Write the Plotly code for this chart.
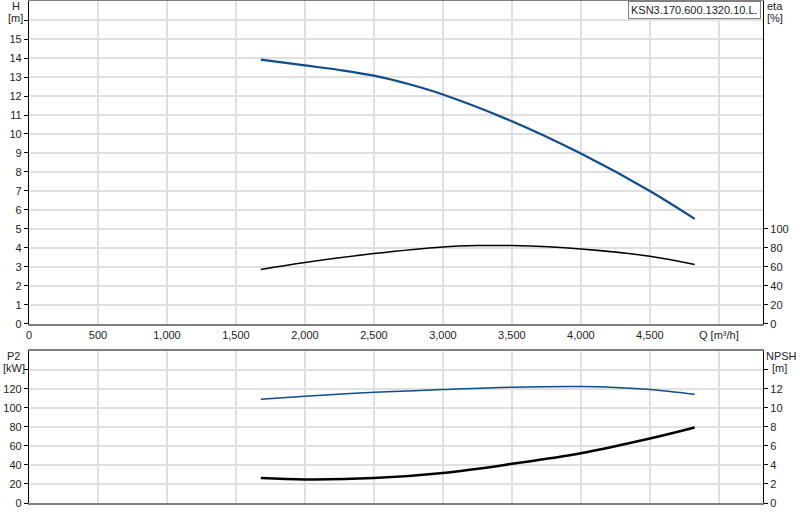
import plotly.graph_objects as go

# pump curve readings
q_h = [1680, 2000, 2250, 2500, 2750, 3000, 3500, 4000, 4500, 4825]
head = [13.91, 13.61, 13.37, 13.07, 12.63, 12.08, 10.67, 8.97, 7.0, 5.53]

q_eta = [1680, 2000, 2500, 3000, 3250, 3500, 4000, 4500, 4825]
eta = [57.4, 64.7, 74.1, 81.1, 82.5, 82.5, 79.0, 71.3, 62.6]

q_p2 = [1680, 2000, 2500, 3000, 3500, 4000, 4250, 4500, 4825]
p2 = [109.2, 112.3, 116.5, 119.4, 121.8, 122.5, 121.5, 119.4, 114.4]

q_npsh = [1680, 2000, 2500, 3000, 3500, 4000, 4500, 4825]
npsh = [2.63, 2.48, 2.62, 3.16, 4.12, 5.24, 6.78, 7.94]

q_ticks = list(range(0, 5001, 500))
q_labels = ['0', '500', '1,000', '1,500', '2,000', '2,500', '3,000',
            '3,500', '4,000', '4,500', 'Q [m³/h]']
h_ticks = list(range(0, 17))
eta_ticks = list(range(0, 101, 20))
p2_ticks = list(range(0, 141, 20))
npsh_ticks = list(range(0, 15, 2))

blue = '#0d4c8f'
grid = '#e0e0e0'
font = dict(family='Liberation Sans, Arial', size=11, color='#222')

fig = go.Figure()
fig.add_trace(go.Scatter(x=q_h, y=head, mode='lines', line=dict(color=blue, width=2.2, shape='spline'),
                         xaxis='x', yaxis='y'))
fig.add_trace(go.Scatter(x=q_eta, y=eta, mode='lines', line=dict(color='black', width=1.5, shape='spline'),
                         xaxis='x', yaxis='y2'))
fig.add_trace(go.Scatter(x=q_p2, y=p2, mode='lines', line=dict(color=blue, width=1.5, shape='spline'),
                         xaxis='x2', yaxis='y3'))
fig.add_trace(go.Scatter(x=q_npsh, y=npsh, mode='lines', line=dict(color='black', width=2.5, shape='spline'),
                         xaxis='x2', yaxis='y4'))

xcommon = dict(range=[0, 5320], tickvals=q_ticks, showgrid=True, gridcolor=grid, gridwidth=1.5,
               showline=True, linecolor='#808080', linewidth=1.5, mirror=True,
               ticks='', zeroline=False, automargin=False)
ycommon = dict(showline=True, linecolor='black', linewidth=1.2, ticks='outside', ticklen=4,
               tickcolor='black', zeroline=False, automargin=False)

top_dom = [0.3566, 1]
bot_dom = [0, 0.3028]

fig.update_layout(
    width=800, height=520,
    margin=dict(l=29, r=37, t=1, b=17, autoexpand=False),
    paper_bgcolor='white', plot_bgcolor='white',
    showlegend=False, font=font,
    xaxis=dict(xcommon, domain=[0, 1], anchor='y', ticktext=q_labels),
    xaxis2=dict(xcommon, domain=[0, 1], anchor='y3', showticklabels=False),
    yaxis=dict(ycommon, domain=top_dom, range=[0, 17], tickvals=h_ticks,
               ticktext=[str(v) for v in h_ticks[:-1]] + [''],
               showgrid=True, gridcolor=grid, gridwidth=1.5),
    yaxis2=dict(ycommon, overlaying='y', side='right', range=[0, 340], tickvals=eta_ticks,
                showgrid=False, anchor='x'),
    yaxis3=dict(ycommon, domain=bot_dom, range=[0, 160], tickvals=p2_ticks,
                ticktext=[str(v) for v in p2_ticks[:-1]] + [''],
                showgrid=True, gridcolor=grid, gridwidth=1.5, anchor='x2'),
    yaxis4=dict(ycommon, overlaying='y3', side='right', range=[0, 16], tickvals=npsh_ticks,
                ticktext=[str(v) for v in npsh_ticks[:-1]] + [''],
                showgrid=False, anchor='x2'),
)

# axis titles
def label(text, x, y, anchor='center'):
    fig.add_annotation(text=text, xref='paper', yref='paper', x=x, y=y, showarrow=False,
                       xanchor=anchor, yanchor='middle', font=font)

W, H0 = 734, 502
def px(xp, yp):
    return (xp - 29) / W, (503 - yp) / H0

label('H', *px(16, 6))
label('[m]', *px(16, 18))
label('eta', *px(775, 6))
label('[%]', *px(775, 18))
label('P2', *px(13, 356))
label('[kW]', *px(14, 368))
label('NPSH', *px(781, 356))
label('[m]', *px(779, 368))

fig.add_annotation(text='KSN3.170.600.1320.10.L.', xref='paper', yref='paper',
                   x=(761 - 29) / W, y=1, xanchor='right', yanchor='top', showarrow=False,
                   bordercolor='#808080', borderwidth=1, borderpad=2, bgcolor='white', font=font)

# browser default body margin would shift the figure by 8px
fig.write_html('out.html', config={'displayModeBar': False},
               post_script="document.body.style.margin='0';")
